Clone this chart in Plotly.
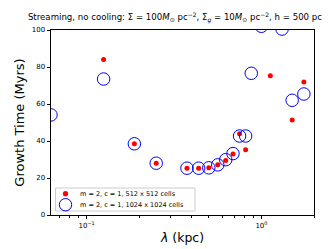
import plotly.graph_objects as go

# Data (lambda in kpc, growth time in Myrs)
lam_512 = [0.125, 0.1875, 0.25, 0.375, 0.4375, 0.5, 0.5625, 0.625, 0.6875, 0.75, 0.8125, 1.125, 1.5, 1.75]
t_512 = [84.1, 38.5, 28.0, 25.3, 25.3, 25.5, 27.1, 29.4, 33.0, 43.9, 35.3, 75.3, 51.3, 71.9]

lam_1024 = [0.0625, 0.125, 0.1875, 0.25, 0.375, 0.4375, 0.5, 0.5625, 0.625, 0.6875, 0.75, 0.8125, 0.875, 1.0, 1.3125, 1.5, 1.75]
t_1024 = [54.1, 73.5, 38.5, 28.0, 25.3, 25.3, 25.5, 27.1, 29.9, 33.2, 42.7, 42.7, 76.6, 102.0, 100.5, 62.0, 65.4]

series_names = ["m = 2, c = 1, 512 x 512 cells", "m = 2, c = 1, 1024 x 1024 cells"]

x_major = [0.1, 1.0]
x_major_text = ["10<sup>−1</sup>", "10<sup>0</sup>"]
x_minor = [0.07, 0.08, 0.09, 0.2, 0.3, 0.4, 0.5, 0.6, 0.7, 0.8, 0.9, 2.0]
y_ticks = [0, 20, 40, 60, 80, 100]

W, H = 332, 249
ML, MR, MT, MB = 43, 26, 22, 42
PW, PH = W - ML - MR, H - MT - MB


def px2paper(px, py):
    return (px - ML) / PW, (H - MB - py) / PH


fig = go.Figure()
fig.add_trace(go.Scatter(
    x=lam_512, y=t_512, mode="markers", name=series_names[0], showlegend=False,
    marker=dict(color="#ff0000", size=5, line=dict(width=0)),
))
fig.add_trace(go.Scatter(
    x=lam_1024, y=t_1024, mode="markers", name=series_names[1], showlegend=False,
    marker=dict(symbol="circle-open", color="#0000ff", size=12.5, line=dict(width=1)),
))

# Compact legend box (drawn manually to match matplotlib's compact legend)
shapes = []
annotations = []
bx0, by0 = px2paper(47.5, 203)
bx1, by1 = px2paper(187, 180)
shapes.append(dict(type="rect", xref="paper", yref="paper", x0=bx0, y0=by0, x1=bx1, y1=by1,
                   line=dict(color="#cccccc", width=1), fillcolor="rgba(255,255,255,0.85)", layer="above"))
rows_y = [185.7, 196.7]
mx, _ = px2paper(57.5, 0)
for i, ry in enumerate(rows_y):
    _, my = px2paper(0, ry)
    if i == 0:
        shapes.append(dict(type="circle", xref="paper", yref="paper", xsizemode="pixel", ysizemode="pixel",
                           xanchor=mx, yanchor=my, x0=-2.6, x1=2.6, y0=-2.6, y1=2.6,
                           fillcolor="#ff0000", line=dict(width=0), layer="above"))
    else:
        shapes.append(dict(type="circle", xref="paper", yref="paper", xsizemode="pixel", ysizemode="pixel",
                           xanchor=mx, yanchor=my, x0=-6.2, x1=6.2, y0=-6.2, y1=6.2,
                           fillcolor="rgba(0,0,0,0)", line=dict(color="#0000ff", width=1), layer="above"))
    tx, _ = px2paper(69.5, 0)
    annotations.append(dict(text=series_names[i], xref="paper", yref="paper", x=tx, y=my,
                            xanchor="left", yanchor="middle", showarrow=False,
                            font=dict(size=6.5, color="black")))

fig.update_layout(
    width=W, height=H,
    margin=dict(l=ML, r=MR, t=MT, b=MB),
    paper_bgcolor="white", plot_bgcolor="white",
    font=dict(family="DejaVu Sans", color="black"),
    title=dict(
        text="Streaming, no cooling: Σ = 100<i>M</i><sub>⊙</sub> pc<sup>−2</sup>, Σ<sub><i>g</i></sub> = 10<i>M</i><sub>⊙</sub> pc<sup>−2</sup>, h = 500 pc",
        font=dict(size=8.6), xref="container", x=0.06, xanchor="left", y=0.962, yanchor="middle",
    ),
    shapes=shapes,
    annotations=annotations,
)
fig.update_xaxes(
    type="log", range=[-1.2041, 0.30103],
    tickvals=x_major, ticktext=x_major_text,
    ticks="outside", ticklen=3.5, tickwidth=0.8, tickcolor="black",
    minor=dict(tickvals=x_minor, ticks="outside", ticklen=2, tickwidth=0.6, tickcolor="black", showgrid=False),
    showline=True, linecolor="black", linewidth=0.8, mirror=True,
    showgrid=False, zeroline=False,
    tickfont=dict(size=7),
    title=dict(text="<i>λ</i> (kpc)", font=dict(size=12.5), standoff=4),
)
fig.update_yaxes(
    range=[0, 100], tickvals=y_ticks,
    ticks="outside", ticklen=3.5, tickwidth=0.8, tickcolor="black",
    showline=True, linecolor="black", linewidth=0.8, mirror=True,
    showgrid=False, zeroline=False,
    tickfont=dict(size=7),
    title=dict(text="Growth Time (Myrs)", font=dict(size=13), standoff=4),
)

fig.write_html("out.html")
